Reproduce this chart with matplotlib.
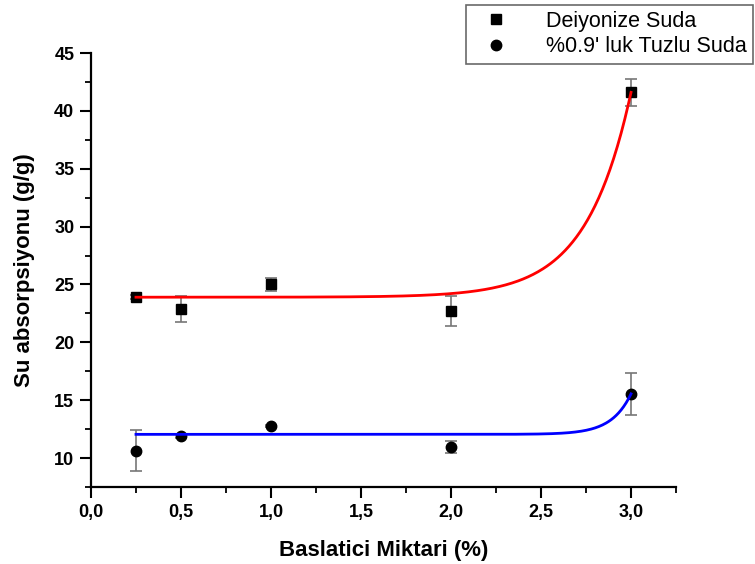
import numpy as np
import matplotlib
matplotlib.use("Agg")
import matplotlib.pyplot as plt
from matplotlib.ticker import MultipleLocator, FuncFormatter

plt.rcParams['font.family'] = ['Liberation Sans', 'DejaVu Sans']

# Data
x_vals = [0.25, 0.5, 1.0, 2.0, 3.0]
deiyonize = [23.9, 22.9, 25.0, 22.7, 41.6]
deiyonize_err = [0.15, 1.1, 0.6, 1.3, 1.15]
tuzlu = [10.65, 11.9, 12.8, 10.95, 15.55]
tuzlu_err = [1.8, 0.15, 0.1, 0.55, 1.8]

# Exponential growth fit parameters: y = y0 + A*exp((x-3)/t)
red_fit = dict(y0=23.9, A=17.7, t=0.2477)
blue_fit = dict(y0=12.05, A=3.5, t=0.1086)

fig = plt.figure(figsize=(7.55, 5.64), dpi=100)
ax = fig.add_axes([0.1205, 0.1365, 0.7749, 0.7695])

def fit_curve(p):
    xx = np.linspace(0.25, 3.0, 400)
    return xx, p['y0'] + p['A'] * np.exp((xx - 3.0) / p['t'])

ax.errorbar(x_vals, deiyonize, yerr=deiyonize_err, fmt='s', color='black',
            ecolor='#777777', elinewidth=1.2, capsize=4, capthick=1.2,
            markersize=7, zorder=3, label='Deiyonize Suda')
ax.errorbar(x_vals, tuzlu, yerr=tuzlu_err, fmt='o', color='black',
            ecolor='#777777', elinewidth=1.2, capsize=4, capthick=1.2,
            markersize=7.5, zorder=3, label="%0.9' luk Tuzlu Suda")

xr, yr = fit_curve(red_fit)
ax.plot(xr, yr, color='#ff0000', lw=2, zorder=4)
xb, yb = fit_curve(blue_fit)
ax.plot(xb, yb, color='#0000ff', lw=2, zorder=4)

ax.set_xlim(0, 3.25)
ax.set_ylim(7.5, 45)
ax.spines['top'].set_visible(False)
ax.spines['right'].set_visible(False)
ax.spines['left'].set_linewidth(1.6)
ax.spines['bottom'].set_linewidth(1.6)

ax.xaxis.set_major_locator(MultipleLocator(0.5))
ax.xaxis.set_minor_locator(MultipleLocator(0.25))
ax.yaxis.set_major_locator(MultipleLocator(5))
ax.yaxis.set_minor_locator(MultipleLocator(2.5))
ax.xaxis.set_major_formatter(FuncFormatter(lambda v, p: f"{v:.1f}".replace('.', ',')))
ax.yaxis.set_major_formatter(FuncFormatter(lambda v, p: f"{v:.0f}"))
ax.tick_params(which='major', direction='out', length=8, width=1.5, labelsize=13, pad=4)
ax.tick_params(which='minor', direction='out', length=4.5, width=1.3)
for lab in ax.get_xticklabels() + ax.get_yticklabels():
    lab.set_fontweight('bold')

ax.set_xlabel('Baslatici Miktari (%)', fontsize=16, fontweight='bold', labelpad=14)
ax.set_ylabel('Su absorpsiyonu (g/g)', fontsize=16, fontweight='bold', labelpad=14)

h, l = ax.get_legend_handles_labels()
leg = fig.legend([hh[0] for hh in h], l, loc='upper right', bbox_to_anchor=(0.997, 0.992),
                 fontsize=15.5, frameon=True, fancybox=False, edgecolor='#444444',
                 borderpad=0.3, handletextpad=1.2, labelspacing=0.2, handlelength=2.2,
                 borderaxespad=0)
leg.get_frame().set_linewidth(1.2)

fig.savefig('out.png', dpi=100)
